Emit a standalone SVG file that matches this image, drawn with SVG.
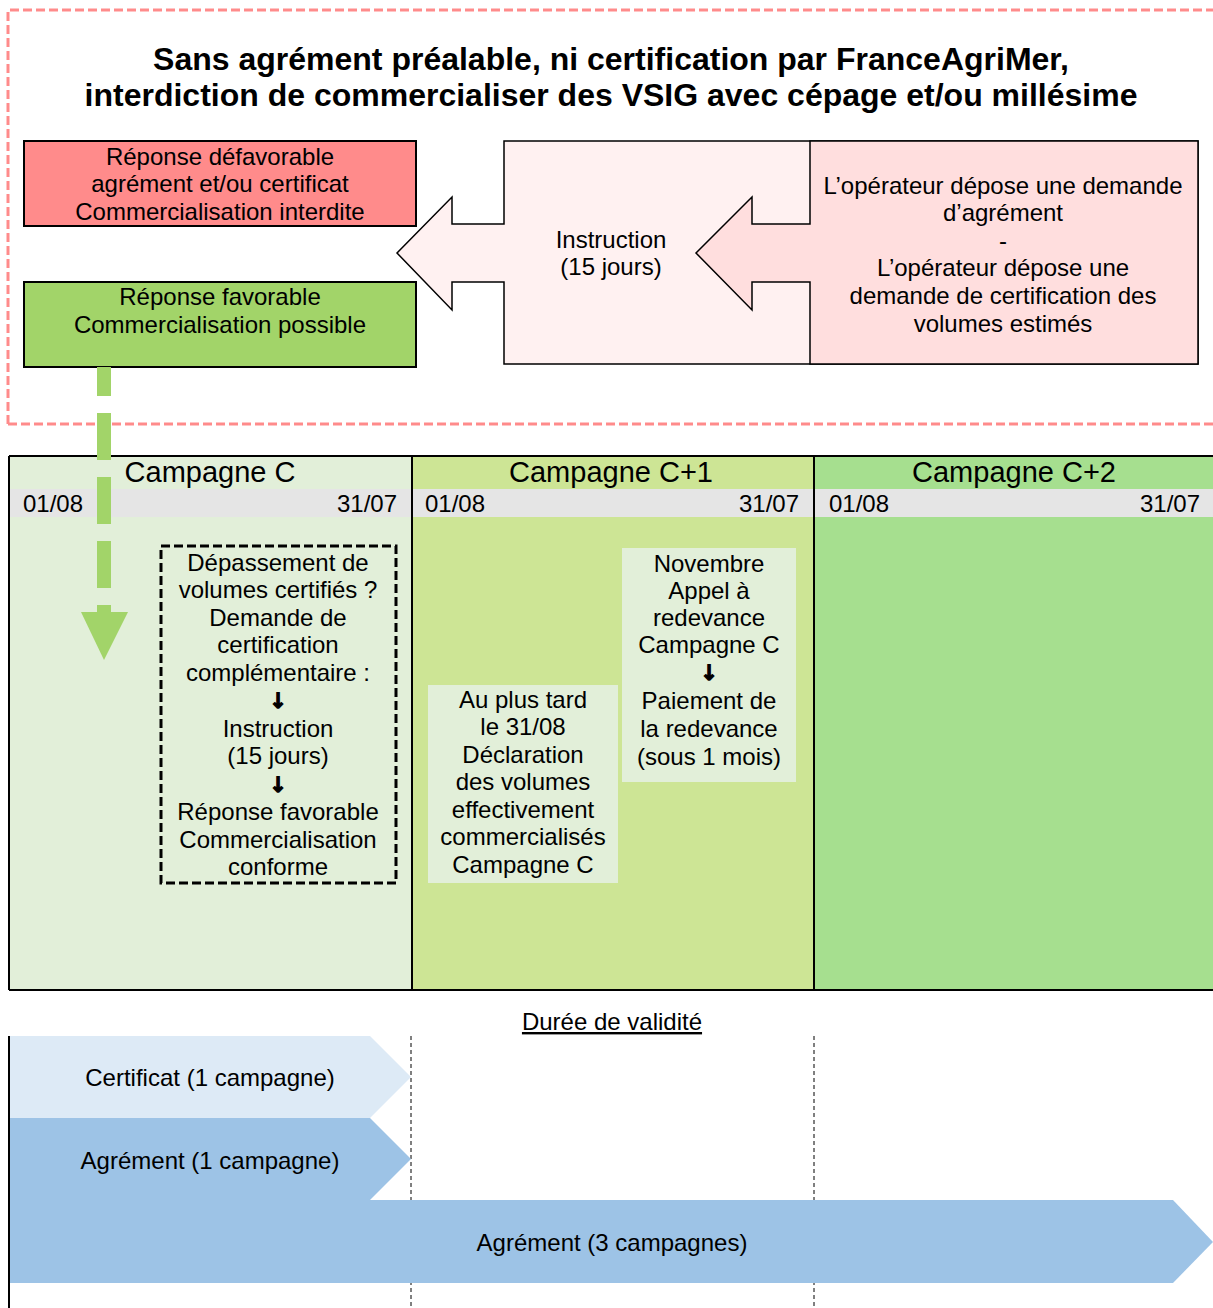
<svg xmlns="http://www.w3.org/2000/svg" width="1213" height="1308" viewBox="0 0 1213 1308">
<style>
text{font-family:"Liberation Sans",Arial,sans-serif;fill:#000}
.t{font-size:24px;text-anchor:middle}
.s{font-size:24px}
.h{font-size:29px;text-anchor:middle}
.ttl{font-size:32px;font-weight:bold;text-anchor:middle}
.ar{font-family:"DejaVu Sans",sans-serif;font-size:21px;font-weight:bold;text-anchor:middle;stroke:#000;stroke-width:1.2}
.bx{stroke:#000;stroke-width:2}
</style>
<rect x="0" y="0" width="1213" height="1308" fill="#fff"/>
<g id="frame">
<path d="M8,424 V10 H1213 M8,424 H1213" fill="none" stroke="#FF8B8B" stroke-width="3" stroke-dasharray="9,4"/>
</g>
<g id="title">
<text class="ttl" x="611" y="70">Sans agrément préalable, ni certification par FranceAgriMer,</text>
<text class="ttl" x="611" y="106">interdiction de commercialiser des VSIG avec cépage et/ou millésime</text>
</g>
<g id="n-defavorable">
<rect class="bx" x="24" y="141" width="392" height="85" fill="#FF8B8B"/>
<text class="t" x="220" y="165">Réponse défavorable</text>
<text class="t" x="220" y="192">agrément et/ou certificat</text>
<text class="t" x="220" y="220">Commercialisation interdite</text>
</g>
<g id="n-favorable">
<rect class="bx" x="24" y="282" width="392" height="85" fill="#A2D469"/>
<text class="t" x="220" y="305">Réponse favorable</text>
<text class="t" x="220" y="333">Commercialisation possible</text>
</g>
<g id="n-instruction">
<polygon points="1198,141 504,141 504,224 452,224 452,197 397,253 452,310 452,282 504,282 504,364 1198,364" fill="#FFF1F1" stroke="#000" stroke-width="1.5"/>
<text class="t" x="611" y="248">Instruction</text>
<text class="t" x="611" y="275">(15 jours)</text>
</g>
<g id="n-demande">
<polygon points="1198,141 810,141 810,224 752,224 752,197 696,253 752,310 752,282 810,282 810,364 1198,364" fill="#FFDEDE" stroke="#000" stroke-width="1.5"/>
<text class="t" x="1003" y="194">L’opérateur dépose une demande</text>
<text class="t" x="1003" y="221">d’agrément</text>
<text class="t" x="1003" y="249">-</text>
<text class="t" x="1003" y="276">L’opérateur dépose une</text>
<text class="t" x="1003" y="304">demande de certification des</text>
<text class="t" x="1003" y="332">volumes estimés</text>
</g>
<g id="campagnes">
<rect x="9" y="456" width="403" height="534" fill="#E2EFD9"/>
<rect x="412" y="456" width="402" height="534" fill="#CDE595"/>
<rect x="814" y="456" width="400" height="534" fill="#A6DF8F"/>
<rect x="10" y="489" width="401" height="28" fill="#E5E5E5"/>
<rect x="413" y="489" width="400" height="28" fill="#E5E5E5"/>
<rect x="815" y="489" width="398" height="28" fill="#E5E5E5"/>
<path d="M9,456 H1214 M9,990 H1214 M9,456 V990 M412,456 V990 M814,456 V990" fill="none" stroke="#000" stroke-width="2"/>
<text class="h" x="210" y="482">Campagne C</text>
<text class="h" x="611" y="482">Campagne C+1</text>
<text class="h" x="1014" y="482">Campagne C+2</text>
<text class="s" x="23" y="512">01/08</text>
<text class="s" x="397" y="512" text-anchor="end">31/07</text>
<text class="s" x="425" y="512">01/08</text>
<text class="s" x="799" y="512" text-anchor="end">31/07</text>
<text class="s" x="829" y="512">01/08</text>
<text class="s" x="1200" y="512" text-anchor="end">31/07</text>
</g>
<g id="connectors">
<line x1="104" y1="367" x2="104" y2="612" stroke="#A2D469" stroke-width="14" stroke-dasharray="47,17" stroke-dashoffset="18"/>
<polygon points="81,612 128,612 104,660" fill="#A2D469"/>
</g>
<g id="n-depassement">
<rect x="161" y="546" width="235" height="337" fill="none" stroke="#000" stroke-width="3" stroke-dasharray="9,4"/>
<text class="t" x="278" y="571">Dépassement de</text>
<text class="t" x="278" y="598">volumes certifiés ?</text>
<text class="t" x="278" y="626">Demande de</text>
<text class="t" x="278" y="653">certification</text>
<text class="t" x="278" y="681">complémentaire :</text>
<text class="ar" x="278" y="708">↓</text>
<text class="t" x="278" y="737">Instruction</text>
<text class="t" x="278" y="764">(15 jours)</text>
<text class="ar" x="278" y="792">↓</text>
<text class="t" x="278" y="820">Réponse favorable</text>
<text class="t" x="278" y="848">Commercialisation</text>
<text class="t" x="278" y="875">conforme</text>
</g>
<g id="n-declaration">
<rect x="428" y="685" width="190" height="198" fill="#E2EFD9"/>
<text class="t" x="523" y="708">Au plus tard</text>
<text class="t" x="523" y="735">le 31/08</text>
<text class="t" x="523" y="763">Déclaration</text>
<text class="t" x="523" y="790">des volumes</text>
<text class="t" x="523" y="818">effectivement</text>
<text class="t" x="523" y="845">commercialisés</text>
<text class="t" x="523" y="873">Campagne C</text>
</g>
<g id="n-redevance">
<rect x="622" y="548" width="174" height="234" fill="#E2EFD9"/>
<text class="t" x="709" y="572">Novembre</text>
<text class="t" x="709" y="599">Appel à</text>
<text class="t" x="709" y="626">redevance</text>
<text class="t" x="709" y="653">Campagne C</text>
<text class="ar" x="709" y="680">↓</text>
<text class="t" x="709" y="709">Paiement de</text>
<text class="t" x="709" y="737">la redevance</text>
<text class="t" x="709" y="765">(sous 1 mois)</text>
</g>
<g id="validite">
<text class="t" x="612" y="1030" text-decoration="underline">Durée de validité</text>
<path d="M411,1036 V1308 M814,1036 V1308" stroke="#000" stroke-width="1" stroke-dasharray="4,3" fill="none"/>
<polygon points="9,1036 370,1036 411,1077 370,1118 9,1118" fill="#DDEAF6"/>
<polygon points="9,1118 370,1118 411,1159 370,1200 9,1200" fill="#9DC3E6"/>
<polygon points="9,1200 1173,1200 1213,1242 1173,1283 9,1283" fill="#9DC3E6"/>
<line x1="9" y1="1036" x2="9" y2="1308" stroke="#000" stroke-width="2"/>
<text class="t" x="210" y="1086">Certificat (1 campagne)</text>
<text class="t" x="210" y="1169">Agrément (1 campagne)</text>
<text class="t" x="612" y="1251">Agrément (3 campagnes)</text>
</g>
</svg>
